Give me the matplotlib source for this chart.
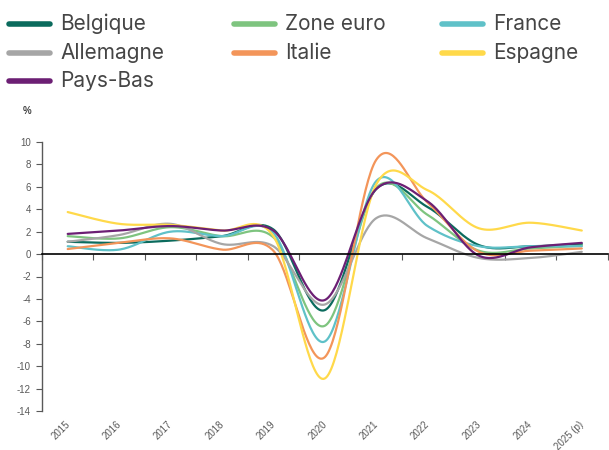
import matplotlib
matplotlib.use("Agg")
import matplotlib.pyplot as plt
import matplotlib.transforms as mtransforms
from matplotlib.lines import Line2D
import numpy as np

plt.rcParams["axes.unicode_minus"] = False

# --- Data (croissance du PIB, %) ---
years = ["2015", "2016", "2017", "2018", "2019", "2020", "2021", "2022", "2023", "2024", "2025 (p)"]
belgique = [1.1, 1.0, 1.2, 1.6, 2.2, -5.0, 5.8, 4.2, 0.8, 0.7, 0.9]
zone_euro = [1.6, 1.4, 2.4, 1.6, 1.5, -6.4, 5.9, 3.5, 0.3, 0.5, 0.75]
france = [0.7, 0.4, 2.0, 1.6, 1.9, -7.8, 6.5, 2.5, 0.7, 0.7, 0.7]
allemagne = [1.1, 1.7, 2.7, 0.9, 0.7, -4.5, 3.2, 1.4, -0.35, -0.35, 0.2]
italie = [0.45, 1.0, 1.4, 0.4, 0.3, -9.2, 8.4, 4.6, 0.2, 0.3, 0.5]
espagne = [3.75, 2.7, 2.6, 2.1, 1.6, -11.1, 6.2, 5.7, 2.3, 2.8, 2.1]
pays_bas = [1.8, 2.1, 2.5, 2.1, 2.1, -4.1, 5.8, 4.7, -0.15, 0.6, 1.0]

series = [
    ("Belgique", belgique, "#0b6b5d"),
    ("Zone euro", zone_euro, "#7ec47f"),
    ("France", france, "#5fc1c8"),
    ("Allemagne", allemagne, "#a6a6a6"),
    ("Italie", italie, "#f3955a"),
    ("Espagne", espagne, "#ffd94a"),
    ("Pays-Bas", pays_bas, "#6c1f74"),
]


def smooth(y, n=40):
    # Excel-like smoothed line (Catmull-Rom through the points)
    y = np.asarray(y, dtype=float)
    x = np.arange(len(y), dtype=float)
    px = np.concatenate([[x[0]], x, [x[-1]]])
    py = np.concatenate([[y[0]], y, [y[-1]]])
    xs, ys = [], []
    t = np.linspace(0, 1, n)
    for i in range(1, len(px) - 2):
        p0, p1, p2, p3 = px[i - 1], px[i], px[i + 1], px[i + 2]
        q0, q1, q2, q3 = py[i - 1], py[i], py[i + 1], py[i + 2]
        c1x, c2x = p1 + (p2 - p0) / 6, p2 - (p3 - p1) / 6
        c1y, c2y = q1 + (q2 - q0) / 6, q2 - (q3 - q1) / 6
        b = [(1 - t) ** 3, 3 * (1 - t) ** 2 * t, 3 * (1 - t) * t ** 2, t ** 3]
        xs.append(b[0] * p1 + b[1] * c1x + b[2] * c2x + b[3] * p2)
        ys.append(b[0] * q1 + b[1] * c1y + b[2] * c2y + b[3] * q2)
    return np.concatenate(xs), np.concatenate(ys)


fig = plt.figure(figsize=(6.09, 4.5), dpi=100)
ax = fig.add_axes([42 / 609, 1 - 411 / 450, 565.5 / 609, 269 / 450])

for name, vals, color in series:
    sx, sy = smooth(vals)
    ax.plot(sx, sy, color=color, lw=1.6, solid_capstyle="round")

ax.set_xlim(-0.5, len(years) - 0.5)
ax.set_ylim(-14, 10)
ax.set_yticks(range(-14, 11, 2))
ax.tick_params(axis="y", labelsize=7, labelcolor="#595959", color="#595959",
               length=4, width=0.8, pad=4)
for lab in ax.get_yticklabels():
    lab.set_fontfamily("Liberation Sans")

# category axis on the zero line, ticks between categories
ax.spines["bottom"].set_position(("data", 0))
ax.spines["bottom"].set_color("black")
ax.spines["bottom"].set_linewidth(1.2)
ax.spines["left"].set_color("#595959")
ax.spines["left"].set_linewidth(1.0)
ax.spines["top"].set_visible(False)
ax.spines["right"].set_visible(False)
ax.set_xticks(np.arange(-0.5, len(years), 1.0))
ax.set_xticklabels([])
ax.tick_params(axis="x", direction="out", length=4, color="#595959", width=0.8)

trans = mtransforms.blended_transform_factory(ax.transData, ax.transAxes)
for i, yr in enumerate(years):
    ax.text(i - 0.06, -0.03, yr, transform=trans, rotation=45, ha="right", va="top",
            rotation_mode="anchor", fontsize=7, color="#595959", family="Liberation Sans")

fig.text(27 / 609, 1 - 111 / 450, "%", fontsize=7, fontweight="bold", color="#404040",
         ha="center", va="center", family="Liberation Sans")

# legend (3 columns, row-wise)
col_x = [7, 232, 440]
row_y = [24, 53, 81]
for k, (name, vals, color) in enumerate(series):
    r, c = divmod(k, 3)
    x0, y0 = col_x[c], row_y[r]
    fig.add_artist(Line2D([(x0 + 2) / 609, (x0 + 43) / 609], [1 - y0 / 450, 1 - y0 / 450],
                          color=color, lw=4.0, solid_capstyle="round"))
    fig.text((x0 + 53) / 609, 1 - y0 / 450, name, fontsize=15, color="#454545",
             ha="left", va="center", family="Inter")

fig.savefig("out.png", dpi=100)
